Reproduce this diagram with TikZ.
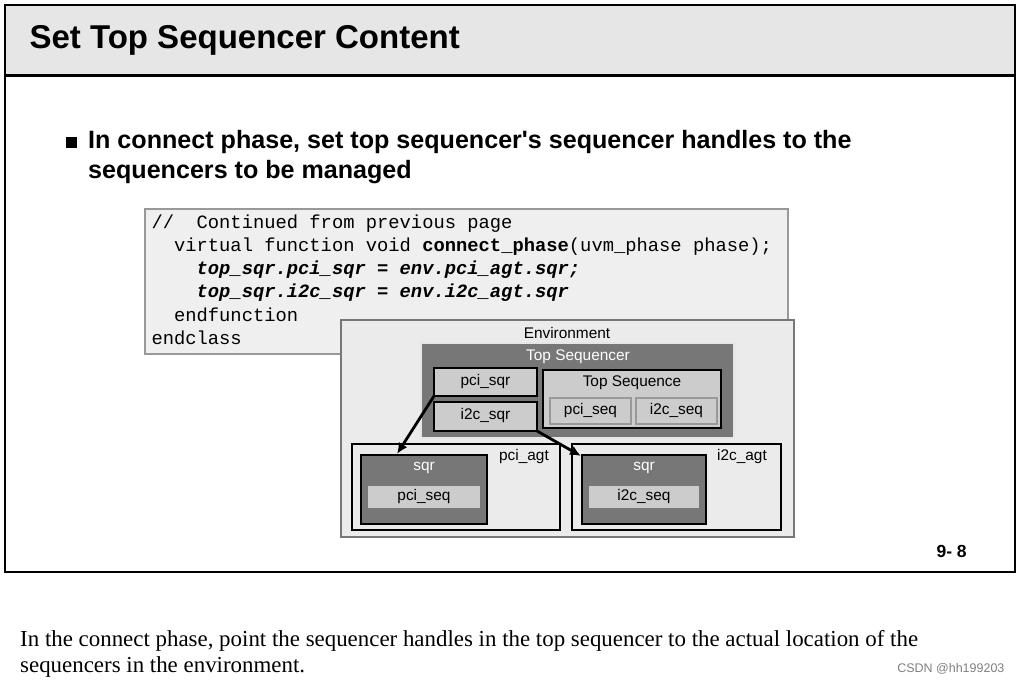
\documentclass[tikz,border=0pt]{standalone}
\usepackage{fontspec}
\usetikzlibrary{arrows.meta}
\setmainfont{Liberation Sans}
\newfontfamily\codef{Liberation Mono}
\newfontfamily\serif{Liberation Serif}
\definecolor{hdr}{HTML}{E6E6E6}
\definecolor{codebg}{HTML}{EFEFEF}
\definecolor{envbg}{HTML}{EBEBEB}
\definecolor{dk}{HTML}{777777}
\definecolor{lt}{HTML}{CCCCCC}
\definecolor{bd}{HTML}{999999}
\begin{document}
\begin{tikzpicture}[x=1pt,y=-1pt,
  box/.style={draw=black,line width=2.8pt},
  lbl/.style={font=\fontsize{15.4}{17}\selectfont},
  codeline/.style={anchor=west,font=\codef\fontsize{18.8}{20}\selectfont},
  arr/.style={line width=2.8pt,-{Latex[length=11pt,width=10pt]}}]
\useasboundingbox (0,0) rectangle (1020,684);
\fill[white] (0,0) rectangle (1020,684);
% frame
\fill[hdr] (5,5) rectangle (1015,76);
\draw[line width=1.5pt] (5,5) rectangle (1015,572);
\draw[line width=3pt] (5,76) -- (1015,76);
\node[anchor=west,font=\bfseries\fontsize{33}{35}\selectfont] (title) at (26,40) {Set Top Sequencer Content};
\fill (66,137) rectangle (77,148);
\node[anchor=north west,align=left,font=\bfseries\fontsize{25.1}{30}\selectfont,inner sep=0pt] (bul) at (88,130) {In connect phase, set top sequencer\textquotesingle s sequencer handles to the\\sequencers to be managed};
% code
\draw[draw=bd,fill=codebg,line width=2.5pt] (145,209) rectangle (788,354);
\node[codeline] (c1) at (148,224) {//\ \ Continued from previous page};
\node[codeline] (c2) at (148,247) {\ \ virtual function void \textbf{connect\_phase}(uvm\_phase phase);};
\node[codeline] (c3) at (148,270) {\ \ \ \ \textbf{\itshape top\_sqr.pci\_sqr = env.pci\_agt.sqr;}};
\node[codeline] (c4) at (148,293) {\ \ \ \ \textbf{\itshape top\_sqr.i2c\_sqr = env.i2c\_agt.sqr}};
\node[codeline] (c5) at (148,315) {\ \ endfunction};
\node[codeline] (c6) at (148,338) {endclass};
% environment
\draw[draw=dk,fill=envbg,line width=2.5pt] (341,320) rectangle (794,537);
\node[lbl] (envl) at (567,333) {Environment};
\draw[draw=hdr,fill=dk,line width=1.5pt] (421,343) rectangle (734,438);
\node[lbl,text=white] (tsl) at (578,357) {Top Sequencer};
\draw[box,fill=lt] (434,368) rectangle (537,396);
\node[lbl] (pcisqr) at (485.5,382) {pci\_sqr};
\draw[box,fill=lt] (434,402) rectangle (537,431);
\node[lbl] (i2csqr) at (485.5,416) {i2c\_sqr};
\draw[box,fill=lt] (543,370) rectangle (721,428);
\node[lbl] (tseq) at (632,383) {Top Sequence};
\draw[draw=bd,fill=lt,line width=2pt] (550,398) rectangle (631,424);
\node[lbl] (ps1) at (590.5,411) {pci\_seq};
\draw[draw=bd,fill=lt,line width=2pt] (636,398) rectangle (717,424);
\node[lbl] (is1) at (676.5,411) {i2c\_seq};
% agents
\draw[box,fill=envbg] (352,444) rectangle (560,530);
\node[lbl] (pagt) at (524,457) {pci\_agt};
\draw[box,fill=dk] (361,455) rectangle (487,524);
\node[lbl,text=white] (psqr) at (424,468) {sqr};
\draw[draw=dk,fill=lt,line width=1.5pt] (367,485) rectangle (481,509);
\node[lbl] (ps2) at (424,497) {pci\_seq};
\draw[box,fill=envbg] (572,444) rectangle (781,530);
\node[lbl] (iagt) at (742,457) {i2c\_agt};
\draw[box,fill=dk] (582,455) rectangle (706,524);
\node[lbl,text=white] (isqr) at (644,468) {sqr};
\draw[draw=dk,fill=lt,line width=1.5pt] (588,485) rectangle (700,509);
\node[lbl] (is2) at (644,497) {i2c\_seq};
% arrows
\coordinate (a1) at (434,396); \coordinate (a2) at (397,454);
\coordinate (b1) at (537,431); \coordinate (b2) at (581,456);
\draw[arr] (a1) -- (a2);
\draw[arr] (b1) -- (b2);
\node[anchor=west,font=\bfseries\fontsize{17.5}{19}\selectfont] (pg) at (933,551) {9- 8};
% footer
\node[anchor=north west,align=left,inner sep=0pt,font=\serif\fontsize{22.9}{26}\selectfont] (ft) at (20,630) {In the connect phase, point the sequencer handles in the top sequencer to the actual location of the\\sequencers in the environment.};
\node[anchor=east,text=gray,font=\fontsize{12.5}{14}\selectfont] (csdn) at (1008,669) {CSDN @hh199203};
\end{tikzpicture}
\end{document}
